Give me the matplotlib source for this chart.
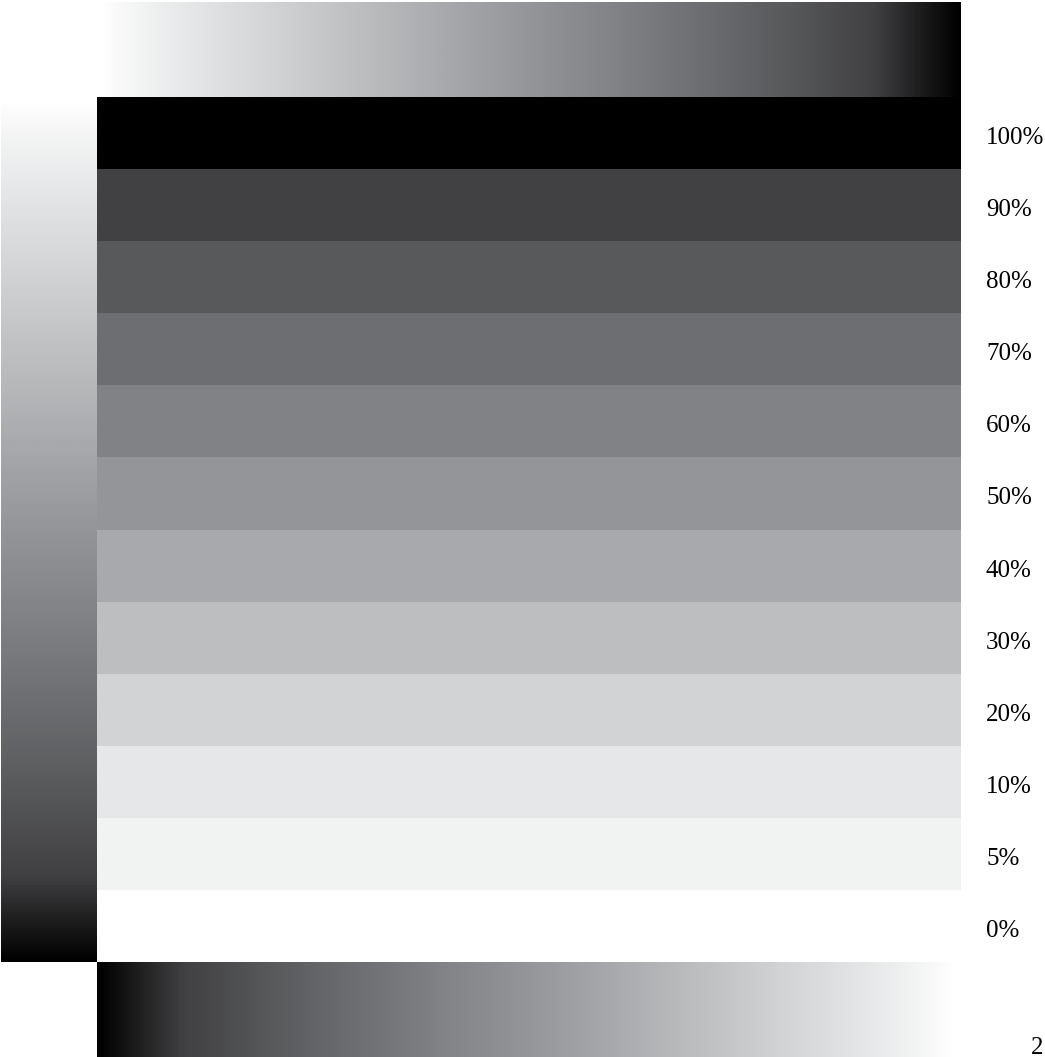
import numpy as np
import matplotlib
matplotlib.use("Agg")
import matplotlib.pyplot as plt
from matplotlib.colors import LinearSegmentedColormap
from matplotlib.transforms import blended_transform_factory, offset_copy

# ===== 1. Data: black tint steps (top to bottom) =====
tints = [100, 90, 80, 70, 60, 50, 40, 30, 20, 10, 5, 0]
tint_colors = ["#000000", "#414042", "#58595b", "#6d6e71", "#808285", "#939598",
               "#a7a9ac", "#bcbec0", "#d1d3d4", "#e6e7e8", "#f1f2f2", "#ffffff"]
tint_labels = ["100%", "90%", "80%", "70%", "60%", "50%",
               "40%", "30%", "20%", "10%", "5%", "0%"]
page_number = "2"

W, H = 1045, 1057
fig = plt.figure(figsize=(W / 100, H / 100), dpi=100)

# colour ramp through the tint swatches (0 = white, 100 = black)
ramp = LinearSegmentedColormap.from_list(
    "tint", [(t / 100, c) for t, c in sorted(zip(tints, tint_colors))])


def axes_px(x0, y0, x1, y1):
    ax = fig.add_axes([x0 / W, 1 - y1 / H, (x1 - x0) / W, (y1 - y0) / H])
    ax.set_axis_off()
    return ax


# ===== 2. Tint bands =====
ax = axes_px(97, 97, 961, 962)
pos = np.arange(len(tints))
ax.barh(pos, 1, height=1.0, color=tint_colors, left=0)
ax.set_xlim(0, 1)
ax.set_ylim(len(tints) - 0.5, -0.5)

# ===== 3. Labels =====
trans = blended_transform_factory(fig.transFigure, ax.transData)
trans = offset_copy(trans, fig=fig, y=-5, units="dots")
for p, lab in zip(pos, tint_labels):
    ax.text(986 / W, p, lab, transform=trans, ha="left", va="center",
            fontsize=18, family="Liberation Serif", color="black")

# ===== 4. Gradient strips =====
ramp_vals = np.linspace(0, 100, 512)

top = axes_px(100, 2, 961, 97)
top.imshow(ramp_vals[None, :], cmap=ramp, vmin=0, vmax=100, aspect="auto")

left = axes_px(1, 100, 97, 962)
left.imshow(ramp_vals[:, None], cmap=ramp, vmin=0, vmax=100, aspect="auto")

bottom = axes_px(97, 962, 955, 1057)
bottom.imshow(ramp_vals[::-1][None, :], cmap=ramp, vmin=0, vmax=100, aspect="auto")

# ===== 5. Page number =====
fig.text(1031 / W, 3 / H, page_number, ha="left", va="baseline",
         fontsize=18, family="Liberation Serif", color="black")

plt.savefig("out.png", dpi=100)
